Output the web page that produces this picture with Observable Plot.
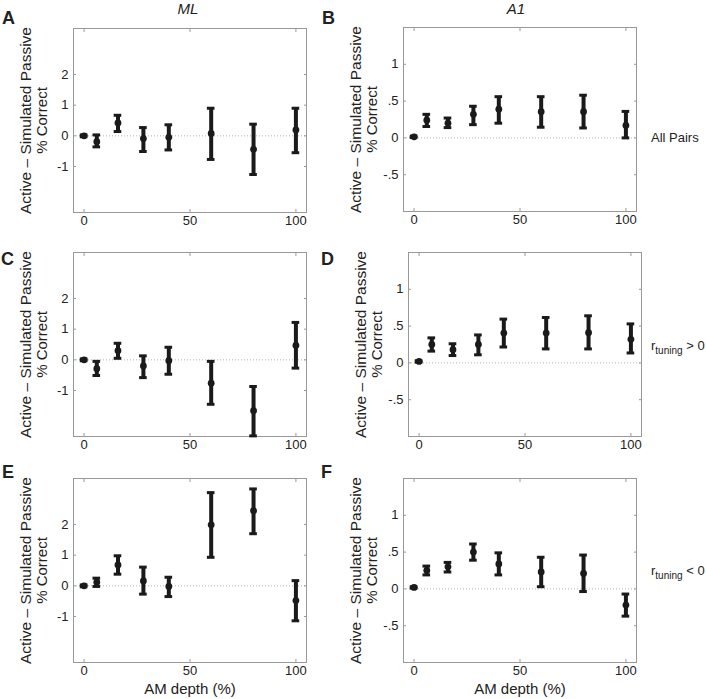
<!DOCTYPE html>
<html>
<head>
<meta charset="utf-8">
<script src="https://cdn.jsdelivr.net/npm/d3@7"></script>
<script src="https://cdn.jsdelivr.net/npm/@observablehq/plot@0.6"></script>
<style>
  html, body { margin: 0; padding: 0; background: #fff; }
  #root { position: relative; width: 706px; height: 699px; background: #fff; font-family: "Liberation Sans", Arial, sans-serif; color: #222; overflow: hidden; }
  .abs { position: absolute; white-space: nowrap; }
  .letter { font-weight: bold; font-size: 18px; line-height: 1; }
  .title { font-style: italic; font-size: 15px; line-height: 1; transform: translateX(-50%); }
  .xlab { font-size: 15px; line-height: 1; transform: translateX(-50%); }
  .rlab { font-size: 13px; line-height: 1; transform: translateY(-50%); }
  .rlab sub { font-size: 10px; vertical-align: -4px; }
</style>
</head>
<body>
<div id="root"></div>
<script>
// AM depth (%) values on the x axis
const depth = [0, 6, 16, 28, 40, 60, 80, 100];
const xTicks = [0, 50, 100];
const mlTicks = [-1, 0, 1, 2];
const a1Ticks = [-0.5, 0, 0.5, 1];

// Panel A: ML, all pairs
const mlAllMean = [0, -0.19, 0.42, -0.09, -0.05, 0.08, -0.44, 0.19];
const mlAllLo   = [-0.03, -0.36, 0.14, -0.51, -0.46, -0.77, -1.26, -0.55];
const mlAllHi   = [0.03, 0.03, 0.67, 0.27, 0.36, 0.90, 0.38, 0.90];
// Panel B: A1, all pairs
const a1AllMean = [0.015, 0.24, 0.20, 0.32, 0.39, 0.355, 0.355, 0.17];
const a1AllLo   = [0.005, 0.155, 0.14, 0.18, 0.20, 0.145, 0.135, 0.0];
const a1AllHi   = [0.025, 0.32, 0.27, 0.43, 0.56, 0.56, 0.58, 0.36];
// Panel C: ML, r_tuning > 0
const mlPosMean = [0, -0.29, 0.30, -0.20, -0.03, -0.76, -1.66, 0.47];
const mlPosLo   = [-0.03, -0.51, 0.05, -0.58, -0.47, -1.45, -2.48, -0.27];
const mlPosHi   = [0.03, -0.05, 0.54, 0.13, 0.41, -0.05, -0.87, 1.22];
// Panel D: A1, r_tuning > 0
const a1PosMean = [0.02, 0.25, 0.18, 0.25, 0.405, 0.405, 0.41, 0.32];
const a1PosLo   = [0.01, 0.16, 0.10, 0.11, 0.216, 0.19, 0.19, 0.135];
const a1PosHi   = [0.03, 0.34, 0.26, 0.38, 0.595, 0.617, 0.64, 0.53];
// Panel E: ML, r_tuning < 0
const mlNegMean = [0, 0.12, 0.68, 0.16, -0.02, 1.99, 2.45, -0.48];
const mlNegLo   = [-0.03, -0.02, 0.38, -0.27, -0.35, 0.93, 1.70, -1.14];
const mlNegHi   = [0.03, 0.25, 0.98, 0.61, 0.28, 3.04, 3.16, 0.17];
// Panel F: A1, r_tuning < 0
const a1NegMean = [0.02, 0.25, 0.30, 0.50, 0.34, 0.23, 0.21, -0.22];
const a1NegLo   = [0.01, 0.19, 0.23, 0.39, 0.19, 0.03, -0.036, -0.37];
const a1NegHi   = [0.03, 0.31, 0.36, 0.61, 0.49, 0.43, 0.46, -0.07];

const yLabel1 = "Active \u2013 Simulated Passive";
const yLabel2 = "% Correct";

function rows(mean, lo, hi) {
  return depth.map((x, i) => ({x, m: mean[i], lo: lo[i], hi: hi[i]}));
}
const fmtA1 = d => d === 0 ? "0" : String(d).replace("0.", ".");
const fmtML = d => String(d);

const ink = "#1a1a1a";
const FW = 233, FH = 184, ML = 60, MR = 6, MT = 6, MB = 24;

function panel(data, yDomain, yTicks, yFmt) {
  return Plot.plot({
    width: ML + FW + MR, height: MT + FH + MB,
    marginLeft: ML, marginRight: MR, marginTop: MT, marginBottom: MB,
    style: {fontFamily: "'Liberation Sans', Arial, sans-serif", fontSize: "13px", color: "#222", background: "transparent", overflow: "visible"},
    x: {domain: [-5, 105]},
    y: {domain: yDomain},
    marks: [
      Plot.ruleY([0], {stroke: "#aaa", strokeDasharray: "1,2", strokeWidth: 0.9}),
      Plot.frame({stroke: "#999"}),
      Plot.axisX({ticks: xTicks, tickSize: -3, tickPadding: 6, tickFormat: d => String(d), label: null, stroke: "#999", fontSize: 13}),
      Plot.axisX({anchor: "top", ticks: xTicks, tickSize: -3, tickFormat: () => "", label: null, stroke: "#999"}),
      Plot.axisY({ticks: yTicks, tickSize: -3, tickPadding: 8, tickFormat: yFmt, label: null, stroke: "#999", fontSize: 13}),
      Plot.axisY({anchor: "right", ticks: yTicks, tickSize: -3, tickFormat: () => "", label: null, stroke: "#999"}),
      Plot.text([yLabel1], {text: d => d, frameAnchor: "left", textAnchor: "middle", lineAnchor: "middle", rotate: -90, dx: -47, fontSize: 15.5, fill: "#222"}),
      Plot.text([yLabel2], {text: d => d, frameAnchor: "left", textAnchor: "middle", lineAnchor: "middle", rotate: -90, dx: -31, fontSize: 15, fill: "#222"}),
      Plot.ruleX(data, {x: "x", y1: "lo", y2: "hi", stroke: ink, strokeWidth: 4}),
      Plot.ruleY(data, {y: "lo", x1: d => d.x - 1.8, x2: d => d.x + 1.8, stroke: ink, strokeWidth: 3}),
      Plot.ruleY(data, {y: "hi", x1: d => d.x - 1.8, x2: d => d.x + 1.8, stroke: ink, strokeWidth: 3}),
      Plot.dot(data, {x: "x", y: "m", r: 3.4, fill: ink, stroke: null})
    ]
  });
}

const root = document.getElementById("root");
function place(node, left, top) {
  const d = document.createElement("div");
  d.className = "abs";
  d.style.left = left + "px";
  d.style.top = top + "px";
  d.appendChild(node);
  root.appendChild(d);
}
function label(html, cls, left, top) {
  const d = document.createElement("div");
  d.className = "abs " + cls;
  d.style.left = left + "px";
  d.style.top = top + "px";
  d.innerHTML = html;
  root.appendChild(d);
}

const mlDom = [-2.5, 3.5], a1Dom = [-1, 1.5];
// frame origins (left, top) for each panel
place(panel(rows(mlAllMean, mlAllLo, mlAllHi), mlDom, mlTicks, fmtML), 73 - ML, 28 - MT);
place(panel(rows(a1AllMean, a1AllLo, a1AllHi), a1Dom, a1Ticks, fmtA1), 403 - ML, 27 - MT);
place(panel(rows(mlPosMean, mlPosLo, mlPosHi), mlDom, mlTicks, fmtML), 73 - ML, 252 - MT);
place(panel(rows(a1PosMean, a1PosLo, a1PosHi), a1Dom, a1Ticks, fmtA1), 408 - ML, 252 - MT);
place(panel(rows(mlNegMean, mlNegLo, mlNegHi), mlDom, mlTicks, fmtML), 73 - ML, 478 - MT);
place(panel(rows(a1NegMean, a1NegLo, a1NegHi), a1Dom, a1Ticks, fmtA1), 403 - ML, 478 - MT);

// panel letters
label("A", "letter", 2, 9);
label("B", "letter", 322, 9);
label("C", "letter", 1, 250);
label("D", "letter", 321, 250);
label("E", "letter", 2, 463);
label("F", "letter", 321, 463);
// column titles
label("ML", "title", 188, 1);
label("A1", "title", 516, 1);
// x-axis titles
label("AM depth (%)", "xlab", 190, 681);
label("AM depth (%)", "xlab", 520, 681);
// row labels
label("All Pairs", "rlab", 651, 137);
label("r<sub>tuning</sub> &gt; 0", "rlab", 651, 347);
label("r<sub>tuning</sub> &lt; 0", "rlab", 651, 572);
</script>
</body>
</html>
